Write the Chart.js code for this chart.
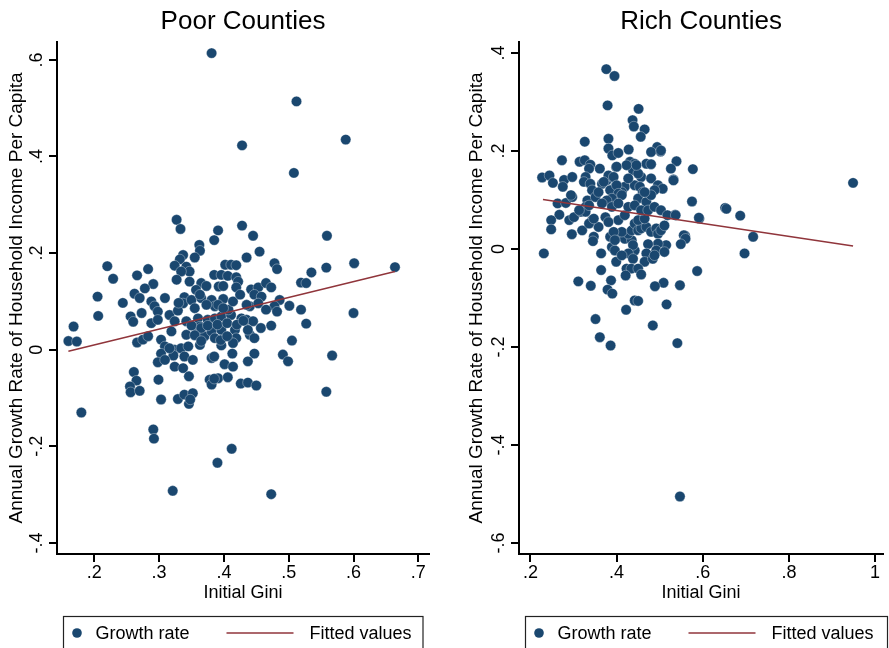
<!DOCTYPE html>
<html lang="en">
<head>
<meta charset="UTF-8" />
<title>Growth vs Initial Gini</title>
<script src="https://cdn.jsdelivr.net/npm/chart.js"></script>
<style>
  body { margin: 0; background: #fff; }
  #wrap { position: relative; width: 889px; height: 648px; overflow: hidden; }
  #poorCanvas { position: absolute; left: 0; top: 0; }
  #richCanvas { position: absolute; left: 445px; top: 0; }
</style>
</head>
<body>
<div id="wrap">
  <canvas id="poorCanvas" width="445" height="648"></canvas>
  <canvas id="richCanvas" width="444" height="648"></canvas>
</div>
<script>
// values: [initial gini, annual growth rate]
const poorPoints = [
  [0.381,0.614],[0.512,0.514],[0.428,0.423],[0.588,0.435],[0.508,0.366],
  [0.327,0.269],[0.333,0.250],[0.391,0.247],[0.428,0.257],[0.385,0.227],[0.445,0.236],[0.559,0.236],
  [0.362,0.217],[0.363,0.205],[0.455,0.203],[0.355,0.191],[0.337,0.196],[0.332,0.187],[0.435,0.191],
  [0.478,0.179],[0.482,0.167],[0.220,0.173],[0.283,0.167],[0.266,0.154],[0.229,0.147],
  [0.324,0.174],[0.342,0.172],[0.347,0.162],[0.334,0.162],[0.327,0.145],[0.347,0.141],
  [0.402,0.176],[0.411,0.176],[0.419,0.175],[0.385,0.155],[0.396,0.155],[0.406,0.153],[0.419,0.150],
  [0.422,0.141],[0.419,0.129],[0.392,0.131],[0.399,0.132],[0.365,0.138],[0.373,0.132],[0.357,0.124],
  [0.558,0.170],[0.601,0.179],[0.664,0.171],[0.535,0.160],[0.519,0.139],[0.527,0.138],
  [0.291,0.136],[0.278,0.127],[0.262,0.116],[0.270,0.107],[0.205,0.110],[0.244,0.097],[0.309,0.107],
  [0.288,0.100],[0.293,0.090],[0.298,0.079],
  [0.339,0.109],[0.337,0.096],[0.350,0.103],[0.365,0.107],[0.381,0.103],[0.399,0.105],[0.386,0.090],
  [0.373,0.093],[0.355,0.086],
  [0.442,0.125],[0.453,0.129],[0.465,0.138],[0.473,0.129],[0.447,0.114],[0.458,0.110],[0.440,0.090],
  [0.453,0.096],[0.486,0.103],[0.478,0.090],[0.465,0.083],[0.482,0.079],[0.501,0.091],[0.519,0.083],[0.600,0.076],
  [0.206,0.070],[0.256,0.069],[0.260,0.058],[0.273,0.076],[0.288,0.055],[0.298,0.062],[0.316,0.072],
  [0.329,0.081],[0.324,0.059],[0.342,0.059],[0.360,0.065],[0.375,0.062],[0.386,0.065],[0.396,0.069],
  [0.411,0.072],[0.427,0.065],[0.435,0.062],[0.445,0.059],[0.457,0.045],[0.473,0.050],[0.527,0.054],
  [0.168,0.048],[0.160,0.018],[0.173,0.017],[0.266,0.015],[0.275,0.021],[0.283,0.028],[0.303,0.021],
  [0.319,0.038],[0.342,0.031],[0.360,0.038],[0.370,0.028],[0.381,0.038],[0.396,0.041],[0.417,0.041],
  [0.419,0.024],[0.414,0.014],[0.440,0.031],[0.447,0.024],[0.437,0.041],[0.505,0.019],
  [0.309,0.007],[0.324,0.000],[0.334,0.003],[0.345,0.007],[0.363,0.010],[0.396,0.009],
  [0.303,-0.008],[0.322,-0.012],[0.339,-0.014],[0.352,-0.021],[0.381,-0.017],[0.385,-0.014],[0.413,-0.008],
  [0.447,-0.008],[0.491,-0.010],[0.499,-0.024],[0.567,-0.012],
  [0.298,-0.026],[0.324,-0.035],[0.337,-0.038],[0.401,-0.030],[0.414,-0.035],[0.437,-0.024],
  [0.261,-0.046],[0.265,-0.064],[0.299,-0.062],[0.346,-0.055],[0.378,-0.062],[0.391,-0.059],[0.406,-0.057],
  [0.381,-0.072],[0.426,-0.070],[0.437,-0.068],[0.450,-0.074],
  [0.255,-0.076],[0.256,-0.088],[0.270,-0.085],[0.558,-0.087],
  [0.303,-0.103],[0.329,-0.102],[0.339,-0.093],[0.352,-0.090],[0.346,-0.112],[0.348,-0.103],
  [0.180,-0.130],[0.291,-0.165],[0.292,-0.184],[0.412,-0.205],[0.390,-0.234],[0.321,-0.292],[0.473,-0.299],
  [0.386,0.024],[0.309,-0.021],[0.363,0.048],[0.316,0.003],[0.385,-0.060],
  [0.330,0.097],[0.363,0.114],[0.407,0.083],[0.414,0.100],[0.425,0.114],[0.435,0.093],[0.391,0.093],[0.399,0.086],
  [0.350,0.050],[0.365,0.045],[0.375,0.050],[0.390,0.052],[0.405,0.055],[0.420,0.052],[0.355,0.030],
  [0.395,0.020],[0.405,0.028],[0.365,0.018],[0.430,0.060]
];
const poorFitX = [0.160, 0.664];
const poorFitY = [-0.003, 0.162];

const richPoints = [
  [0.376,0.367],[0.395,0.353],[0.379,0.293],[0.451,0.286],[0.437,0.263],[0.440,0.250],[0.465,0.244],
  [0.456,0.229],[0.381,0.225],[0.326,0.219],
  [0.381,0.205],[0.390,0.191],[0.404,0.196],[0.428,0.203],[0.494,0.208],[0.502,0.199],[0.480,0.198],[0.503,0.201],
  [0.273,0.181],[0.314,0.178],[0.326,0.181],[0.339,0.172],[0.336,0.164],[0.361,0.164],[0.399,0.167],
  [0.431,0.178],[0.442,0.174],[0.435,0.167],[0.469,0.174],[0.480,0.173],[0.539,0.179],[0.526,0.164],[0.577,0.163],
  [0.227,0.146],[0.244,0.150],[0.252,0.135],[0.278,0.141],[0.297,0.147],[0.275,0.127],[0.328,0.147],
  [0.324,0.137],[0.339,0.133],[0.343,0.120],[0.366,0.133],[0.377,0.140],[0.389,0.147],[0.397,0.127],
  [0.385,0.120],[0.419,0.127],[0.412,0.116],[0.442,0.130],[0.457,0.147],[0.454,0.127],[0.461,0.116],
  [0.480,0.144],[0.496,0.130],[0.507,0.123],[0.488,0.120],[0.532,0.142],[0.949,0.135],
  [0.438,0.161],[0.450,0.154],[0.423,0.171],[0.446,0.171],[0.400,0.168],[0.381,0.150],[0.393,0.147],
  [0.370,0.137],[0.400,0.130],[0.427,0.144],[0.532,0.140],
  [0.263,0.093],[0.282,0.094],[0.297,0.106],[0.294,0.110],[0.267,0.070],[0.290,0.059],[0.301,0.065],
  [0.248,0.059],[0.248,0.040],[0.332,0.099],[0.328,0.086],[0.351,0.106],[0.358,0.116],[0.317,0.076],
  [0.343,0.059],[0.347,0.025],[0.358,0.045],[0.320,0.038],
  [0.404,0.113],[0.412,0.110],[0.389,0.103],[0.377,0.099],[0.450,0.103],[0.469,0.096],[0.480,0.110],
  [0.465,0.116],[0.575,0.097],[0.592,0.062],[0.652,0.084],[0.687,0.068],[0.536,0.070],[0.559,0.027],
  [0.717,0.025],[0.296,0.030],
  [0.231,-0.009],[0.336,0.052],[0.345,0.016],[0.364,-0.009],[0.364,-0.043],[0.311,-0.066],[0.340,-0.075],
  [0.387,-0.064],[0.379,-0.083],[0.390,-0.091],[0.389,0.004],[0.396,-0.003],[0.399,-0.026],
  [0.404,0.025],[0.419,0.021],[0.435,0.018],[0.427,0.031],[0.412,0.035],[0.435,0.038],[0.442,0.052],
  [0.450,0.038],[0.457,0.042],[0.469,0.045],[0.480,0.035],[0.492,0.042],[0.496,0.031],[0.503,0.038],
  [0.511,0.048],[0.450,0.059],[0.465,0.062],[0.404,0.059],[0.419,0.069],[0.374,0.065],[0.381,0.055],
  [0.347,0.062],[0.328,0.076],[0.313,0.079],[0.336,0.089],[0.366,0.093],[0.389,0.086],[0.404,0.093],
  [0.427,0.086],[0.442,0.089],[0.457,0.079],[0.473,0.079],[0.488,0.086],[0.503,0.079],[0.518,0.069],
  [0.537,0.069],[0.556,0.028],[0.560,0.021],[0.549,0.010],[0.515,0.008],[0.496,0.011],[0.473,0.010],
  [0.492,-0.003],[0.511,-0.006],[0.469,-0.009],[0.442,-0.003],[0.438,0.008],[0.427,-0.009],[0.438,-0.020],
  [0.412,-0.013],[0.465,-0.026],[0.484,-0.020],[0.488,-0.013],[0.423,-0.040],[0.434,-0.040],[0.450,-0.040],
  [0.457,-0.052],[0.421,-0.054],[0.587,-0.045],[0.591,0.064],[0.655,0.082],[0.697,-0.009],
  [0.509,-0.069],[0.489,-0.076],[0.547,-0.074],[0.516,-0.113],[0.484,-0.156],[0.351,-0.143],[0.422,-0.124],
  [0.442,-0.105],[0.450,-0.106],[0.361,-0.180],[0.386,-0.197],[0.541,-0.192],[0.547,-0.505],
  [0.385,0.025],[0.393,0.035],[0.396,0.018]
];
const richFitX = [0.229, 0.949];
const richFitY = [0.101, 0.006];

const poorXTicks = [0.2, 0.3, 0.4, 0.5, 0.6, 0.7];
const poorXLabels = ['.2', '.3', '.4', '.5', '.6', '.7'];
const poorYTicks = [-0.4, -0.2, 0, 0.2, 0.4, 0.6];
const poorYLabels = ['-.4', '-.2', '0', '.2', '.4', '.6'];
const richXTicks = [0.2, 0.4, 0.6, 0.8, 1];
const richXLabels = ['.2', '.4', '.6', '.8', '1'];
const richYTicks = [-0.6, -0.4, -0.2, 0, 0.2, 0.4];
const richYLabels = ['-.6', '-.4', '-.2', '0', '.2', '.4'];

const seriesNames = ['Growth rate', 'Fitted values'];
const yTitle = 'Annual Growth Rate of Household Income Per Capita';
const xTitle = 'Initial Gini';

const DOT = '#1a476f', FIT = '#90353b';
const FONT = '"Liberation Sans", Arial, Helvetica, sans-serif';
Chart.defaults.font.family = FONT;
Chart.defaults.color = '#000';

// stata style: y tick labels turned to read bottom-up, panel title centred over the plot
const panelText = {
  id: 'panelText',
  afterDraw(chart, args, opts) {
    const s = chart.scales.y, ctx = chart.ctx, area = chart.chartArea;
    ctx.save();
    ctx.fillStyle = '#000';
    ctx.textAlign = 'center';
    ctx.textBaseline = 'middle';
    ctx.font = '26px ' + FONT;
    ctx.fillText(opts.title, (area.left + area.right) / 2, 22);
    ctx.font = '18px ' + FONT;
    s.ticks.forEach(t => {
      ctx.save();
      ctx.translate(s.right - 20, s.getPixelForValue(t.value));
      ctx.rotate(-Math.PI / 2);
      ctx.fillText(t.label, 0, 0);
      ctx.restore();
    });
    ctx.restore();
  }
};

// boxed legend under each panel
const boxLegend = {
  id: 'boxLegend',
  afterDraw(chart, args, opts) {
    const ctx = chart.ctx, x0 = opts.x0, x1 = opts.x1, top = 616.5, cy = 633;
    ctx.save();
    ctx.strokeStyle = '#222';
    ctx.lineWidth = 1.2;
    ctx.strokeRect(x0, top, x1 - x0, 60);
    ctx.fillStyle = DOT;
    ctx.beginPath();
    ctx.arc(x0 + 13.5, cy, 4.8, 0, Math.PI * 2);
    ctx.fill();
    ctx.strokeStyle = FIT;
    ctx.lineWidth = 1.5;
    ctx.beginPath();
    ctx.moveTo(x0 + 163, cy);
    ctx.lineTo(x0 + 230, cy);
    ctx.stroke();
    ctx.fillStyle = '#000';
    ctx.font = '18px ' + FONT;
    ctx.textBaseline = 'middle';
    ctx.fillText(seriesNames[0], x0 + 32, cy + 1);
    ctx.fillText(seriesNames[1], x0 + 246, cy + 1);
    ctx.restore();
  }
};

function makePanel(id, o) {
  return new Chart(document.getElementById(id), {
    type: 'scatter',
    data: {
      datasets: [
        {
          label: seriesNames[0],
          data: o.points.map(p => ({ x: p[0], y: p[1] })),
          backgroundColor: DOT,
          borderColor: 'rgba(255,255,255,0.55)',
          borderWidth: 0.6,
          pointRadius: 5.2,
          order: 2
        },
        {
          type: 'line',
          label: seriesNames[1],
          data: o.fitX.map((x, i) => ({ x: x, y: o.fitY[i] })),
          borderColor: FIT,
          borderWidth: 1.5,
          pointRadius: 0,
          fill: false,
          order: 1
        }
      ]
    },
    options: {
      responsive: false,
      animation: false,
      layout: { padding: { left: o.padLeft, right: o.padRight, top: 42, bottom: 44 } },
      plugins: {
        legend: { display: false },
        tooltip: { enabled: false },
        title: { display: false },
        panelText: { title: o.title },
        boxLegend: { x0: o.legendX0, x1: o.legendX1 }
      },
      scales: {
        x: {
          type: 'linear', min: o.xMin, max: o.xMax,
          afterBuildTicks: s => { s.ticks = o.xTicks.map(v => ({ value: v })); },
          afterFit: s => { s.height = 50; s.paddingLeft = 0; s.paddingRight = 0; },
          ticks: { callback: (v, i) => o.xLabels[i], font: { size: 18 }, padding: 0, maxRotation: 0, color: '#000' },
          grid: { drawOnChartArea: false, drawTicks: true, tickLength: 8, lineWidth: 2, color: '#000' },
          border: { display: true, color: '#000', width: 2 },
          title: { display: true, text: xTitle, font: { size: 18 }, padding: { top: 0, bottom: 0 }, color: '#000' }
        },
        y: {
          type: 'linear', min: o.yMin, max: o.yMax,
          afterBuildTicks: s => { s.ticks = o.yTicks.map(v => ({ value: v })); },
          afterFit: s => { s.width = o.yWidth; s.paddingTop = 0; s.paddingBottom = 0; },
          ticks: { callback: (v, i) => o.yLabels[i], font: { size: 16 }, color: 'rgba(0,0,0,0)' },
          grid: { drawOnChartArea: false, drawTicks: true, tickLength: 8, lineWidth: 2, color: '#000' },
          border: { display: true, color: '#000', width: 2 },
          title: { display: true, text: yTitle, font: { size: 19 }, padding: { top: o.yTitlePad, bottom: 0 }, color: '#000' }
        }
      }
    },
    plugins: [panelText, boxLegend]
  });
}

makePanel('poorCanvas', {
  title: 'Poor Counties', points: poorPoints, fitX: poorFitX, fitY: poorFitY,
  xMin: 0.1424, xMax: 0.7165, yMin: -0.4228, yMax: 0.637,
  xTicks: poorXTicks, xLabels: poorXLabels, yTicks: poorYTicks, yLabels: poorYLabels,
  padLeft: 0, padRight: 16, yWidth: 57, yTitlePad: 5.6, legendX0: 63.5, legendX1: 423
});
makePanel('richCanvas', {
  title: 'Rich Counties', points: richPoints, fitX: richFitX, fitY: richFitY,
  xMin: 0.1733, xMax: 1.019, yMin: -0.6224, yMax: 0.4224,
  xTicks: richXTicks, xLabels: richXLabels, yTicks: richYTicks, yLabels: richYLabels,
  padLeft: 14, padRight: 0, yWidth: 60, yTitlePad: 6.1, legendX0: 80.5, legendX1: 442.5
});
</script>
</body>
</html>
